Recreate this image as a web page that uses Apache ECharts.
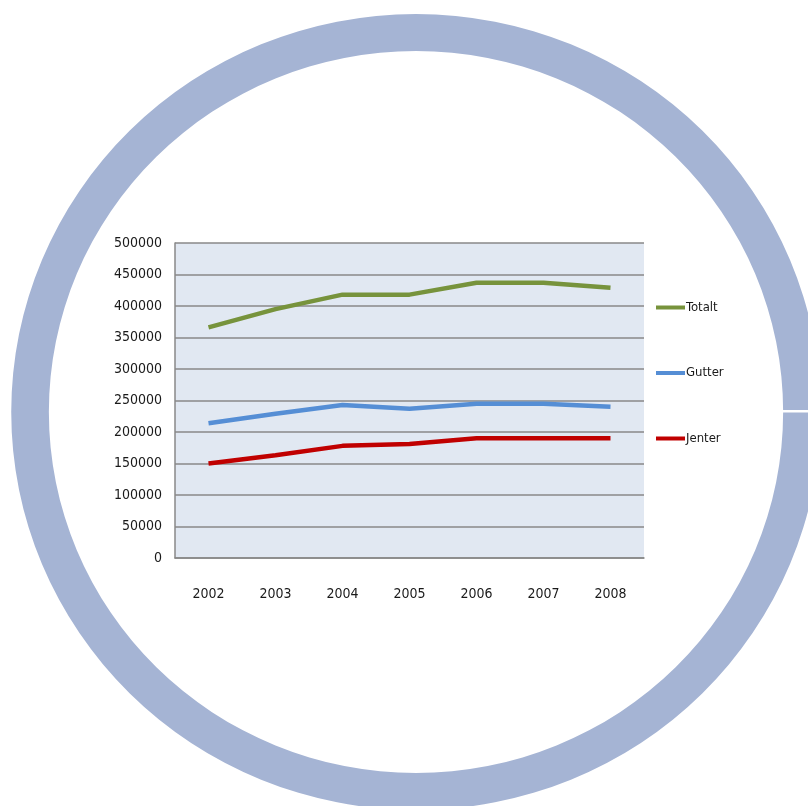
<!DOCTYPE html>
<html>
<head>
<meta charset="utf-8">
<style>
html,body{margin:0;padding:0;background:#fff;}
#chart{width:808px;height:806px;}
</style>
<script src="https://cdn.jsdelivr.net/npm/echarts@6/dist/echarts.min.js"></script>
</head>
<body>
<div id="chart"></div>
<script>
var years = ['2002','2003','2004','2005','2006','2007','2008'];
var totalt = [366000, 395000, 418000, 418000, 437000, 437000, 429000];
var gutter = [214000, 229000, 243000, 237000, 245000, 245000, 240000];
var jenter = [150000, 163000, 178000, 181000, 190000, 190000, 190000];
var seriesNames = ['Totalt', 'Gutter', 'Jenter'];
var seriesColors = ['#77933c', '#558ed5', '#c00000'];

var FONT = '"Liberation Sans Narrow", "DejaVu Sans Condensed", sans-serif';
var chart = echarts.init(document.getElementById('chart'), null, {renderer: 'canvas'});
var dataSets = [totalt, gutter, jenter];
var series = dataSets.map(function (d, i) {
  return {
    name: seriesNames[i], type: 'line', data: d,
    symbol: 'none', smooth: false,
    lineStyle: {color: seriesColors[i], width: 4.5},
    itemStyle: {color: seriesColors[i]},
    z: 3
  };
});

chart.setOption({
  animation: false,
  backgroundColor: '#ffffff',
  graphic: [
    {
      type: 'ring', z: -10, silent: true,
      x: 416, y: 412, scaleX: 1.017, scaleY: 1,
      shape: {cx: 0, cy: 0, r: 398, r0: 361},
      style: {fill: '#a5b4d4'}
    },
    {
      type: 'rect', z: -9, silent: true,
      shape: {x: 782, y: 410, width: 30, height: 2.5},
      style: {fill: '#ffffff'}
    }
  ],
  grid: {
    left: 175, right: 164, top: 243, bottom: 248,
    show: true, backgroundColor: '#e1e8f2', borderWidth: 0
  },
  legend: {
    orient: 'vertical', left: 651, top: 296, itemGap: 52.5,
    icon: 'rect', itemWidth: 29, itemHeight: 4,
    data: seriesNames,
    textStyle: {fontFamily: FONT, fontSize: 13, color: '#1a1a1a', padding: [0, 0, 0, -4]}
  },
  xAxis: {
    type: 'category', data: years, boundaryGap: true,
    axisLine: {lineStyle: {color: '#888888', width: 1.5}},
    axisTick: {show: false},
    axisLabel: {fontFamily: FONT, fontSize: 14, color: '#1a1a1a', margin: 29}
  },
  yAxis: {
    type: 'value', min: 0, max: 500000, interval: 50000,
    axisLine: {show: true, lineStyle: {color: '#888888', width: 1.5}},
    axisTick: {show: false},
    splitLine: {lineStyle: {color: '#888888', width: 1.5}},
    axisLabel: {fontFamily: FONT, fontSize: 14, color: '#1a1a1a', margin: 13,
      formatter: function (v) { return String(v); }}
  },
  series: series
});
</script>
</body>
</html>
